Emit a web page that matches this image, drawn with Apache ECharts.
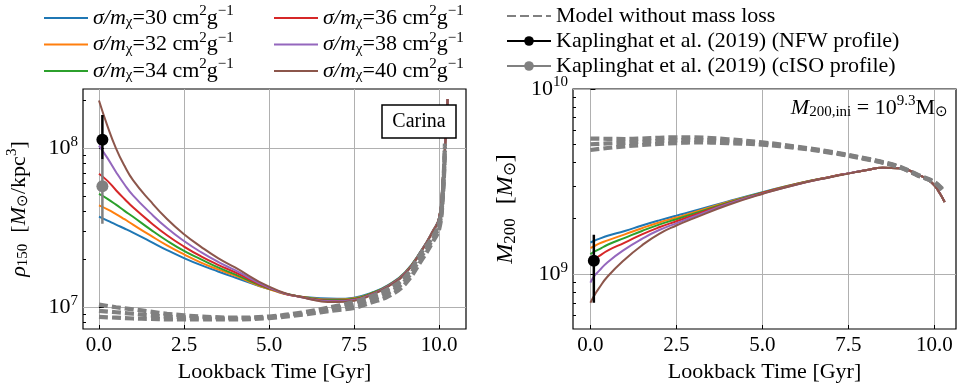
<!DOCTYPE html>
<html><head><meta charset="utf-8">
<script src="https://cdn.jsdelivr.net/npm/echarts@6/dist/echarts.min.js"></script>
<style>html,body{margin:0;padding:0;background:#fff}#c{width:957px;height:391px}</style>
</head><body><div id="c"></div>
<script>
// ---------- data ----------
const sigmas = [30, 32, 34, 36, 38, 40];
const sigmaColors = ['#1f77b4', '#ff7f0e', '#2ca02c', '#d62728', '#9467bd', '#8c564b'];
const xTicks = [0, 2.5, 5, 7.5, 10];
const rhoMajor = [1e7, 1e8];
const rhoMinor = [8e6, 9e6, 2e7, 3e7, 4e7, 5e7, 6e7, 7e7, 8e7, 9e7, 2e8];
const mMajor = [1e9, 1e10];
const mMinor = [6e8, 7e8, 8e8, 9e8, 2e9, 3e9, 4e9, 5e9, 6e9, 7e9, 8e9, 9e9];

// left panel: rho_150 [Msun/kpc^3] vs lookback time [Gyr]
const tRho = [0, 0.25, 0.5, 0.75, 1, 1.5, 2, 2.5, 3, 3.5, 4, 5, 6, 7, 7.5, 8, 8.5, 9, 9.5, 9.8, 10, 10.1, 10.2, 10.25];
const rho30 = [3.72e7, 3.51e7, 3.31e7, 3.13e7, 2.95e7, 2.60e7, 2.29e7, 2.04e7, 1.84e7, 1.68e7, 1.54e7, 1.30e7, 1.16e7, 1.13e7, 1.15e7, 1.23e7, 1.38e7, 1.66e7, 2.32e7, 2.99e7, 3.67e7, 6.03e7, 1.26e8, 2.04e8];
const rho32 = [4.37e7, 4.13e7, 3.86e7, 3.58e7, 3.31e7, 2.84e7, 2.45e7, 2.15e7, 1.91e7, 1.73e7, 1.58e7, 1.30e7, 1.16e7, 1.12e7, 1.14e7, 1.22e7, 1.37e7, 1.65e7, 2.31e7, 2.98e7, 3.66e7, 6.03e7, 1.26e8, 2.04e8];
const rho34 = [5.16e7, 4.81e7, 4.42e7, 4.04e7, 3.71e7, 3.10e7, 2.62e7, 2.26e7, 2.00e7, 1.78e7, 1.61e7, 1.31e7, 1.16e7, 1.11e7, 1.13e7, 1.22e7, 1.37e7, 1.65e7, 2.31e7, 2.97e7, 3.66e7, 6.03e7, 1.26e8, 2.04e8];
const rho36 = [6.92e7, 6.24e7, 5.45e7, 4.80e7, 4.25e7, 3.44e7, 2.84e7, 2.41e7, 2.09e7, 1.85e7, 1.66e7, 1.32e7, 1.155e7, 1.10e7, 1.12e7, 1.21e7, 1.36e7, 1.64e7, 2.30e7, 2.96e7, 3.65e7, 6.03e7, 1.26e8, 2.04e8];
const rho38 = [1.04e8, 8.67e7, 7.10e7, 5.92e7, 5.06e7, 3.94e7, 3.15e7, 2.61e7, 2.22e7, 1.93e7, 1.71e7, 1.33e7, 1.15e7, 1.09e7, 1.11e7, 1.20e7, 1.36e7, 1.63e7, 2.30e7, 2.96e7, 3.64e7, 6.03e7, 1.26e8, 2.04e8];
const rho40 = [2.00e8, 1.38e8, 1.00e8, 7.76e7, 6.31e7, 4.68e7, 3.59e7, 2.88e7, 2.40e7, 2.04e7, 1.78e7, 1.35e7, 1.15e7, 1.08e7, 1.10e7, 1.19e7, 1.35e7, 1.62e7, 2.29e7, 2.95e7, 3.63e7, 6.03e7, 1.26e8, 2.04e8];

const tRhoNoLoss = [0, 0.5, 1, 1.5, 2, 2.5, 3, 4, 5, 6, 7, 7.5, 8, 8.5, 9, 9.5, 9.8, 10, 10.1, 10.17];
const rhoNoLossHi = [1.04e7, 1.0e7, 9.7e6, 9.4e6, 9.1e6, 8.9e6, 8.75e6, 8.6e6, 8.75e6, 9.3e6, 1.02e7, 1.08e7, 1.17e7, 1.30e7, 1.55e7, 2.24e7, 2.75e7, 3.4e7, 5.0e7, 1.07e8];
const rhoNoLossMid = [9.5e6, 9.3e6, 9.1e6, 8.9e6, 8.75e6, 8.65e6, 8.55e6, 8.5e6, 8.65e6, 9.15e6, 9.9e6, 1.03e7, 1.12e7, 1.23e7, 1.47e7, 2.12e7, 2.65e7, 3.25e7, 4.8e7, 1.02e8];
const rhoNoLossLo = [8.7e6, 8.6e6, 8.5e6, 8.45e6, 8.4e6, 8.4e6, 8.4e6, 8.4e6, 8.55e6, 9.0e6, 9.6e6, 9.9e6, 1.07e7, 1.17e7, 1.40e7, 2.0e7, 2.55e7, 3.1e7, 4.6e7, 9.7e7];

// right panel: M_200 [Msun] vs lookback time [Gyr]
const tM = [0, 0.1, 0.25, 0.5, 1, 1.5, 2, 2.5, 3, 4, 5, 6, 7, 7.5, 8, 8.5, 9, 9.5, 9.8, 10, 10.15, 10.3];
const m30 = [1.48e9, 1.51e9, 1.55e9, 1.61e9, 1.71e9, 1.83e9, 1.95e9, 2.07e9, 2.19e9, 2.47e9, 2.77e9, 3.08e9, 3.36e9, 3.50e9, 3.64e9, 3.75e9, 3.73e9, 3.47e9, 3.24e9, 3.02e9, 2.75e9, 2.45e9];
const m32 = [1.38e9, 1.41e9, 1.46e9, 1.52e9, 1.64e9, 1.77e9, 1.90e9, 2.02e9, 2.15e9, 2.45e9, 2.75e9, 3.08e9, 3.36e9, 3.50e9, 3.64e9, 3.75e9, 3.73e9, 3.47e9, 3.24e9, 3.02e9, 2.75e9, 2.45e9];
const m34 = [1.28e9, 1.32e9, 1.36e9, 1.44e9, 1.57e9, 1.71e9, 1.85e9, 1.98e9, 2.12e9, 2.43e9, 2.75e9, 3.07e9, 3.36e9, 3.50e9, 3.64e9, 3.75e9, 3.73e9, 3.47e9, 3.24e9, 3.02e9, 2.75e9, 2.45e9];
const m36 = [1.17e9, 1.21e9, 1.25e9, 1.34e9, 1.48e9, 1.64e9, 1.79e9, 1.93e9, 2.08e9, 2.41e9, 2.74e9, 3.06e9, 3.36e9, 3.50e9, 3.64e9, 3.75e9, 3.73e9, 3.47e9, 3.24e9, 3.02e9, 2.75e9, 2.45e9];
const m38 = [9.0e8, 9.7e8, 1.04e9, 1.16e9, 1.36e9, 1.55e9, 1.73e9, 1.88e9, 2.04e9, 2.39e9, 2.72e9, 3.05e9, 3.35e9, 3.50e9, 3.64e9, 3.75e9, 3.73e9, 3.47e9, 3.24e9, 3.02e9, 2.75e9, 2.45e9];
const m40 = [7.0e8, 7.6e8, 8.4e8, 9.7e8, 1.20e9, 1.43e9, 1.65e9, 1.83e9, 2.00e9, 2.36e9, 2.71e9, 3.05e9, 3.35e9, 3.49e9, 3.64e9, 3.75e9, 3.73e9, 3.47e9, 3.24e9, 3.02e9, 2.75e9, 2.45e9];

const tMNoLoss = [0, 0.5, 1, 1.5, 2, 2.5, 3, 4, 5, 6, 7, 8, 8.5, 9, 9.5, 10, 10.3];
const mNoLossHi = [5.4e9, 5.38e9, 5.37e9, 5.4e9, 5.45e9, 5.48e9, 5.48e9, 5.35e9, 5.15e9, 4.88e9, 4.58e9, 4.22e9, 4.03e9, 3.8e9, 3.45e9, 3.15e9, 2.8e9];
const mNoLossMid = [5.03e9, 5.08e9, 5.12e9, 5.18e9, 5.24e9, 5.28e9, 5.31e9, 5.22e9, 5.07e9, 4.84e9, 4.55e9, 4.2e9, 4.01e9, 3.78e9, 3.43e9, 3.13e9, 2.77e9];
const mNoLossLo = [4.68e9, 4.8e9, 4.9e9, 4.98e9, 5.05e9, 5.1e9, 5.15e9, 5.1e9, 5.0e9, 4.8e9, 4.52e9, 4.18e9, 4.0e9, 3.77e9, 3.42e9, 3.12e9, 2.75e9];

// observations (Kaplinghat et al. 2019)
const obsT = 0.1;
const rhoNFW = [1.13e8, 8.5e7, 1.62e8];   // value, low, high
const rhoISO = [5.77e7, 3.35e7, 8.5e7];
const mNFW = [1.18e9, 7.0e8, 1.63e9];

// ---------- chart ----------
const FONT = 'Liberation Serif';
const rhoSeries = [rho30, rho32, rho34, rho36, rho38, rho40];
const mSeries = [m30, m32, m34, m36, m38, m40];
const sigmaNames = sigmas.map(s => 'sigma' + s);
const NOLOSS = 'Model without mass loss';
const NFW = 'Kaplinghat et al. (2019) (NFW profile)';
const ISO = 'Kaplinghat et al. (2019) (cISO profile)';
const zip = (xs, ys) => xs.map((x, i) => [x, ys[i]]);

function makeRich(size, gap) {
  const s = Math.round(size * 0.7);
  return {
    n: {fontFamily: FONT, fontSize: size, color: '#000'},
    it: {fontFamily: FONT, fontSize: size, fontStyle: 'italic', color: '#000'},
    sub: {fontFamily: FONT, fontSize: s, color: '#000', padding: [Math.round(size * 0.4), 0, 0, 0]},
    sup: {fontFamily: FONT, fontSize: s, color: '#000', padding: [0, 0, Math.round(size * 0.6), 0]},
    sp: {fontFamily: FONT, fontSize: size, width: gap || Math.round(size * 0.5)}
  };
}
const richTick = makeRich(22);
const richName = makeRich(22);
const richNameR = makeRich(24, 14);
const richLegend = makeRich(22);

const series = [];
sigmas.forEach((s, i) => {
  series.push({type: 'line', name: sigmaNames[i], xAxisIndex: 0, yAxisIndex: 0,
    data: zip(tRho, rhoSeries[i]), symbol: 'none', smooth: 0.5,
    lineStyle: {color: sigmaColors[i], width: 2}, itemStyle: {color: sigmaColors[i]}, z: 2});
  series.push({type: 'line', name: sigmaNames[i], xAxisIndex: 1, yAxisIndex: 2,
    data: zip(tM, mSeries[i]), symbol: 'none', smooth: 0.5,
    lineStyle: {color: sigmaColors[i], width: 2}, itemStyle: {color: sigmaColors[i]}, z: 2});
});
const dashStyle = {color: '#808080', width: 4.2, type: [9, 4]};
[rhoNoLossHi, rhoNoLossMid, rhoNoLossLo].forEach(arr => series.push({
  type: 'line', name: NOLOSS, xAxisIndex: 0, yAxisIndex: 0, data: zip(tRhoNoLoss, arr),
  symbol: 'none', smooth: 0.4, lineStyle: dashStyle, itemStyle: {color: '#808080'}, z: 3}));
[mNoLossHi, mNoLossMid, mNoLossLo].forEach(arr => series.push({
  type: 'line', name: NOLOSS, xAxisIndex: 1, yAxisIndex: 2, data: zip(tMNoLoss, arr),
  symbol: 'none', smooth: 0.4, lineStyle: dashStyle, itemStyle: {color: '#808080'}, z: 3}));

function obsSeries(name, color, xi, yi, obs) {
  return [
    {type: 'line', name, xAxisIndex: xi, yAxisIndex: yi, data: [[obsT, obs[0]]],
     symbol: 'circle', symbolSize: 12, showSymbol: true,
     lineStyle: {color, width: 2.5}, itemStyle: {color}, z: 6},
    {type: 'line', name, xAxisIndex: xi, yAxisIndex: yi, data: [[obsT, obs[1]], [obsT, obs[2]]],
     symbol: 'none', lineStyle: {color, width: 2.5}, itemStyle: {color}, z: 5}
  ];
}
series.push(...obsSeries(NFW, '#000', 0, 0, rhoNFW));
series.push(...obsSeries(ISO, '#808080', 0, 0, rhoISO));
series.push(...obsSeries(NFW, '#000', 1, 2, mNFW));

function xAxis(gi, min, max) {
  return {type: 'value', gridIndex: gi, min, max,
    axisLine: {show: false},
    axisTick: {show: true, inside: true, length: 4, customValues: xTicks, lineStyle: {color: '#000'}},
    axisLabel: {customValues: xTicks, formatter: v => v.toFixed(1), fontFamily: FONT, fontSize: 21, color: '#000', margin: 6},
    splitLine: {show: true, lineStyle: {color: '#b0b0b0', width: 1}},
    name: 'Lookback Time [Gyr]', nameLocation: 'middle', nameGap: 30,
    nameTextStyle: {fontFamily: FONT, fontSize: 22, color: '#000'}};
}
const powLabel = v => '{n|10}{sup|' + Math.round(Math.log10(v)) + '}';
function yAxisMain(gi, min, max, major, name, gap, nameRich) {
  return {type: 'log', gridIndex: gi, min, max, position: 'left',
    axisLine: {show: false},
    axisTick: {show: true, inside: true, length: 5, customValues: major, lineStyle: {color: '#000'}},
    axisLabel: {customValues: major, formatter: powLabel, rich: richTick, margin: 5},
    splitLine: {show: true, lineStyle: {color: '#b0b0b0', width: 1}},
    name, nameLocation: 'middle', nameGap: gap, nameRotate: 90,
    nameTextStyle: {rich: nameRich}};
}
function yAxisMinor(gi, min, max, minor) {
  return {type: 'log', gridIndex: gi, min, max, position: 'left',
    axisLine: {show: false},
    axisTick: {show: true, inside: true, length: 3, customValues: minor, lineStyle: {color: '#000'}},
    axisLabel: {show: false}, splitLine: {show: false}};
}

function legendFmt(name) {
  const i = sigmaNames.indexOf(name);
  if (i >= 0) return '{it|σ/m}{sub|χ}{n|=' + sigmas[i] + ' cm}{sup|2}{n|g}{sup|−1}';
  return '{n|' + name + '}';
}
function legend(left, top, gap, data) {
  return {orient: 'vertical', left, top, itemWidth: 44, itemHeight: 12, itemGap: gap,
    data, formatter: legendFmt, textStyle: {fontFamily: FONT, fontSize: 22, color: '#000', rich: richLegend}};
}
const lineOnly = n => ({name: n, itemStyle: {opacity: 0}});

const option = {
  animation: false,
  backgroundColor: '#fff',
  grid: [
    {left: 83, top: 89, width: 383, height: 240, show: true, borderColor: '#000', borderWidth: 1.2, backgroundColor: 'transparent'},
    {left: 573, top: 89, width: 383, height: 240, show: true, borderColor: '#000', borderWidth: 1.2, backgroundColor: 'transparent'}
  ],
  xAxis: [xAxis(0, -0.47, 10.79), xAxis(1, -0.506, 10.63)],
  yAxis: [
    yAxisMain(0, 7.3e6, 2.36e8, rhoMajor, '{it|ρ}{sub|150}{sp| }{n|[}{it|M}{sub|⊙}{n|/kpc}{sup|3}{n|]}', 50, richName),
    yAxisMinor(0, 7.3e6, 2.36e8, rhoMinor),
    yAxisMain(1, 5.05e8, 1e10, mMajor, '{it|M}{sub|200}{sp| }{n|[}{it|M}{sub|⊙}{n|]}', 54, richNameR),
    yAxisMinor(1, 5.05e8, 1e10, mMinor)
  ],
  legend: [
    legend(38, -1, 0.5, sigmaNames.slice(0, 3).map(lineOnly)),
    legend(268, -1, 0.5, sigmaNames.slice(3, 6).map(lineOnly)),
    legend(501, 0, 3, [lineOnly(NOLOSS), NFW, ISO])
  ],
  graphic: [
    {type: 'rect', shape: {x: 382, y: 105, width: 74, height: 33}, style: {fill: '#fff', stroke: '#000', lineWidth: 1.5}, z: 100},
    {type: 'text', x: 419, y: 121.5, style: {text: 'Carina', font: '20px "Liberation Serif"', fill: '#000', align: 'center', verticalAlign: 'middle'}, z: 101},
    {type: 'text', x: 948, y: 108, style: {text: '{it|M}{sub|200,ini}{n| = 10}{sup|9.3}{n|M}{sub|⊙}', rich: richName, align: 'right', verticalAlign: 'middle'}, z: 101}
  ],
  series
};
const chart = echarts.init(document.getElementById('c'), null, {renderer: 'canvas'});
chart.setOption(option);
</script>
</body></html>
